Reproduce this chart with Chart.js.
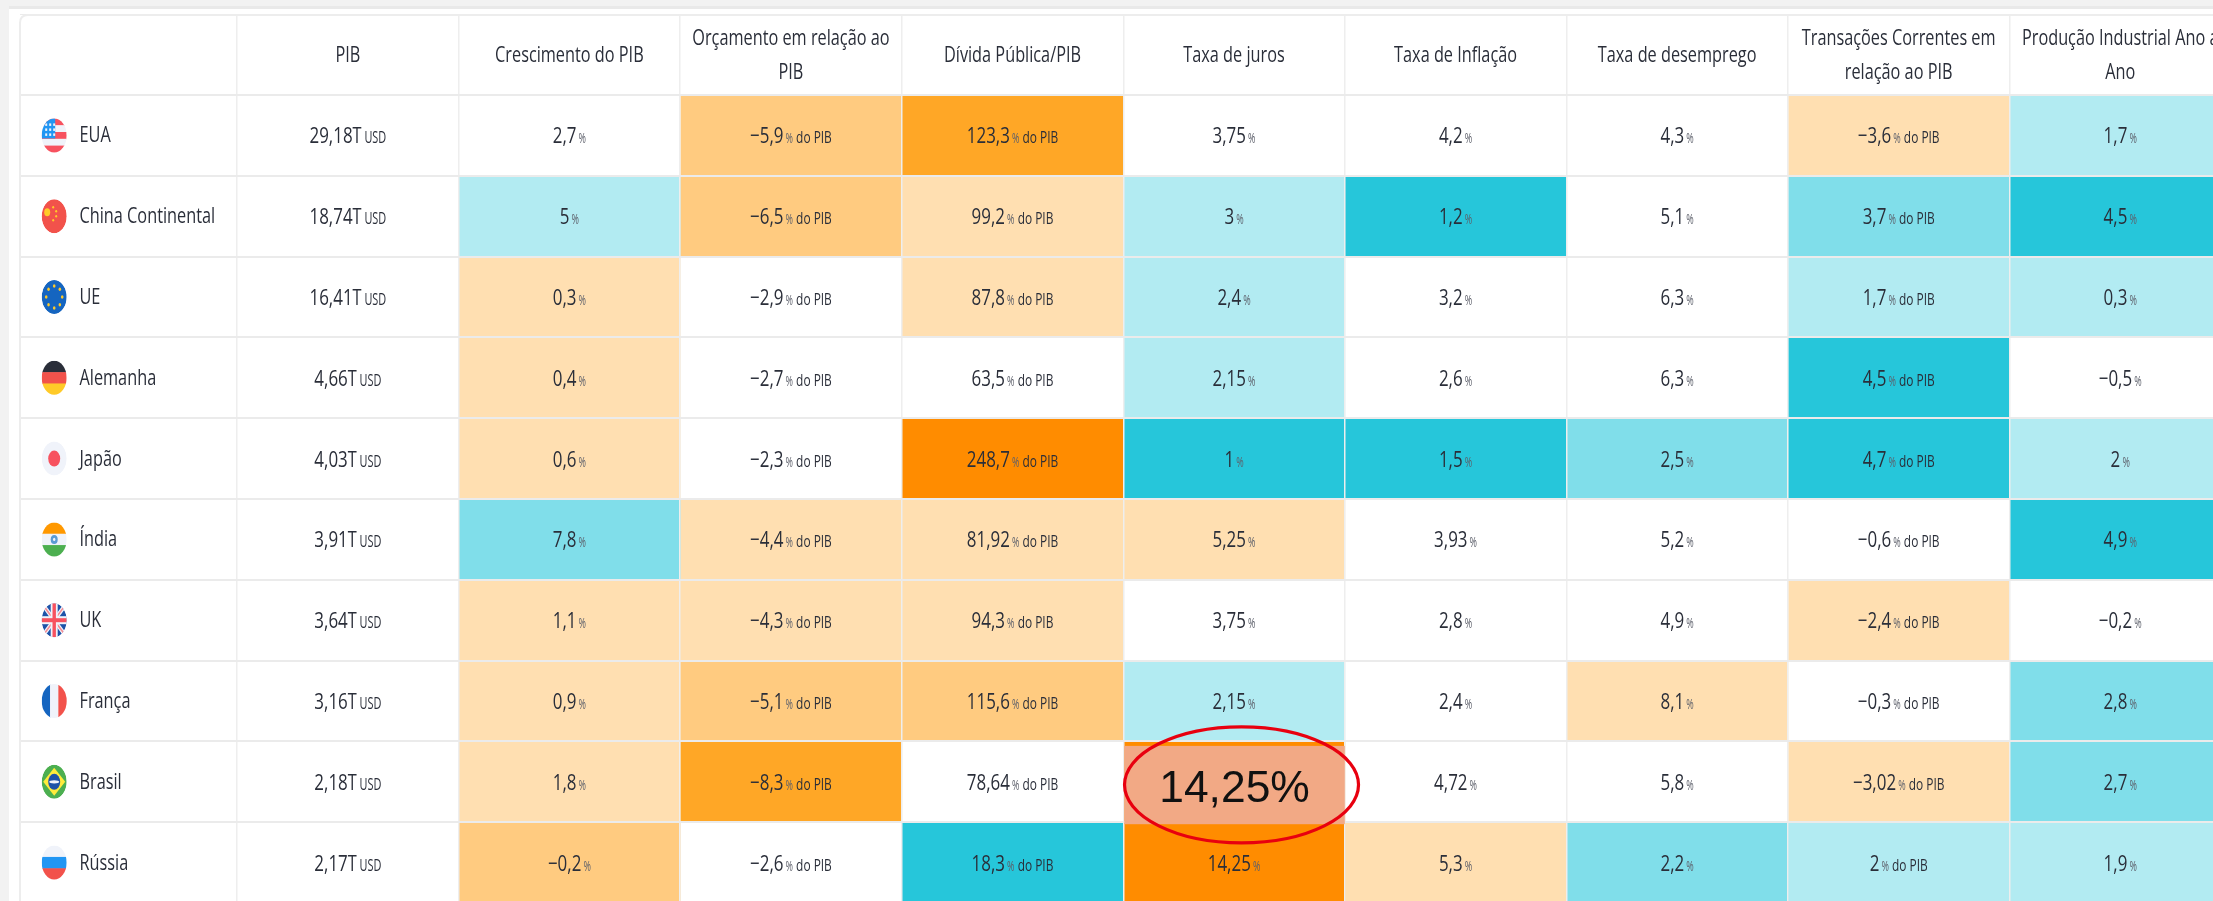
<!DOCTYPE html>
<html lang="pt">
<head>
<meta charset="utf-8">
<title>Indicadores por país</title>
<script src="https://cdn.jsdelivr.net/npm/chart.js@4"></script>
<style>
  html, body { margin: 0; padding: 0; background: #fff; overflow: hidden; }
  #grafico { position: absolute; left: 0; top: 0; }
</style>
</head>
<body>
<canvas id="grafico" width="2231" height="903"></canvas>
<script>
// Linhas e colunas da tabela
const paises = ["EUA", "China Continental", "UE", "Alemanha", "Japão", "Índia", "UK", "França", "Brasil", "Rússia"];
const cabecalhos = [
  [""],
  ["PIB"],
  ["Crescimento do PIB"],
  ["Orçamento em relação ao", "PIB"],
  ["Dívida Pública/PIB"],
  ["Taxa de juros"],
  ["Taxa de Inflação"],
  ["Taxa de desemprego"],
  ["Transações Correntes em", "relação ao PIB"],
  ["Produção Industrial Ano a", "Ano"],
];
const unidades = ["T USD", "%", "% do PIB", "% do PIB", "%", "%", "%", "% do PIB", "%"];

// Valores de cada coluna
const pib = [29.18, 18.74, 16.41, 4.66, 4.03, 3.91, 3.64, 3.16, 2.18, 2.17];
const crescimento = [2.7, 5, 0.3, 0.4, 0.6, 7.8, 1.1, 0.9, 1.8, -0.2];
const orcamento = [-5.9, -6.5, -2.9, -2.7, -2.3, -4.4, -4.3, -5.1, -8.3, -2.6];
const divida = [123.3, 99.2, 87.8, 63.5, 248.7, 81.92, 94.3, 115.6, 78.64, 18.3];
const juros = [3.75, 3, 2.4, 2.15, 1, 5.25, 3.75, 2.15, 14.25, 14.25];
const inflacao = [4.2, 1.2, 3.2, 2.6, 1.5, 3.93, 2.8, 2.4, 4.72, 5.3];
const desemprego = [4.3, 5.1, 6.3, 6.3, 2.5, 5.2, 4.9, 8.1, 5.8, 2.2];
const transacoes = [-3.6, 3.7, 1.7, 4.5, 4.7, -0.6, -2.4, -0.3, -3.02, 2];
const producao = [1.7, 4.5, 0.3, -0.5, 2, 4.9, -0.2, 2.8, 2.7, 1.9];
const colunas = [pib, crescimento, orcamento, divida, juros, inflacao, desemprego, transacoes, producao];

// Nível do mapa de calor: negativo = laranja, positivo = azul, 0 = branco
const nivelPib = [0, 0, 0, 0, 0, 0, 0, 0, 0, 0];
const nivelCrescimento = [0, 1, -1, -1, -1, 2, -1, -1, -1, -2];
const nivelOrcamento = [-2, -2, 0, 0, 0, -1, -1, -2, -3, 0];
const nivelDivida = [-3, -1, -1, 0, -4, -1, -1, -2, 0, 3];
const nivelJuros = [0, 1, 1, 1, 3, -1, 0, 1, -4, -4];
const nivelInflacao = [0, 3, 0, 0, 3, 0, 0, 0, 0, -1];
const nivelDesemprego = [0, 0, 0, 0, 2, 0, 0, -1, 0, 2];
const nivelTransacoes = [-1, 2, 1, 3, 3, 0, -1, 0, -1, 1];
const nivelProducao = [1, 3, 1, 0, 1, 3, 0, 2, 2, 1];
const niveis = [nivelPib, nivelCrescimento, nivelOrcamento, nivelDivida, nivelJuros, nivelInflacao, nivelDesemprego, nivelTransacoes, nivelProducao];

// Destaque em vermelho
const destaquePais = "Brasil";
const destaqueColuna = 4;
const destaqueTexto = "14,25%";

const coresNivel = {
  "-4": "#FF8C00", "-3": "#FFA726", "-2": "#FFCB80", "-1": "#FFDFB1",
  "0": "#FFFFFF",
  "1": "#B2EBF2", "2": "#80DEEA", "3": "#26C6DA",
};

const corTexto = "#2A2E39";
const fonte = '"Open Sans"';
const escala = 0.74; // o texto original é bem estreito

const linhas = [""].concat(paises);

function formatar(valor) {
  return valor.toLocaleString("pt-BR", { maximumFractionDigits: 2 }).replace("-", "−");
}

// Escreve pedaços de texto com tamanhos diferentes, centrados em cx
function pedacosTexto(ctx, pedacos, cx, y) {
  let total = 0;
  pedacos.forEach((p) => {
    ctx.font = `${p.tam}px ${fonte}`;
    p.larg = ctx.measureText(p.txt).width * p.esc;
    total += p.larg;
  });
  let x = cx - total / 2;
  ctx.textAlign = "left";
  ctx.textBaseline = "alphabetic";
  pedacos.forEach((p) => {
    ctx.save();
    ctx.font = `${p.tam}px ${fonte}`;
    ctx.fillStyle = p.cor;
    ctx.translate(x, y);
    ctx.scale(p.esc, 1);
    ctx.fillText(p.txt, 0, 0);
    ctx.restore();
    x += p.larg;
  });
}

function pedacosValor(valor, unidade) {
  const pedacos = [{ txt: formatar(valor), tam: 22, esc: escala + 0.03, cor: corTexto }];
  if (unidade[0] === "T") {
    pedacos.push({ txt: "T", tam: 22, esc: escala, cor: corTexto });
    pedacos.push({ txt: " USD", tam: 16, esc: escala - 0.06, cor: corTexto });
  } else {
    pedacos.push({ txt: " ", tam: 8, esc: 1, cor: corTexto });
    pedacos.push({ txt: "%", tam: 15, esc: 0.6, cor: "#5D606B" });
    if (unidade.length > 1) pedacos.push({ txt: " do PIB", tam: 17, esc: escala - 0.04, cor: corTexto });
  }
  return pedacos;
}

// Bandeiras simplificadas dentro de uma elipse
function bandeira(ctx, nome, cx, cy) {
  const rx = 12.5, ry = 17;
  const faixasH = (cores) => cores.forEach((c, i) => {
    ctx.fillStyle = c;
    ctx.fillRect(cx - rx, cy - ry + (i * 2 * ry) / cores.length, 2 * rx, (2 * ry) / cores.length + 0.5);
  });
  const faixasV = (cores) => cores.forEach((c, i) => {
    ctx.fillStyle = c;
    ctx.fillRect(cx - rx + (i * 2 * rx) / cores.length, cy - ry, (2 * rx) / cores.length + 0.5, 2 * ry);
  });
  const elipse = (x, y, a, b, cor) => {
    ctx.fillStyle = cor;
    ctx.beginPath();
    ctx.ellipse(x, y, a, b, 0, 0, Math.PI * 2);
    ctx.fill();
  };
  ctx.save();
  ctx.beginPath();
  ctx.ellipse(cx, cy, rx, ry, 0, 0, Math.PI * 2);
  ctx.clip();
  if (nome === "EUA") {
    faixasH(["#F7525F", "#F0F3FA", "#F7525F", "#F0F3FA", "#F7525F"]);
    ctx.fillStyle = "#2196F3";
    ctx.fillRect(cx - rx, cy - ry, rx + 1, ry + 3);
    ctx.fillStyle = "#F0F3FA";
    for (let i = 0; i < 3; i++) for (let j = 0; j < 3; j++) ctx.fillRect(cx - 9 + i * 4, cy - 12 + j * 5, 2, 2.5);
  } else if (nome === "China Continental") {
    elipse(cx, cy, rx, ry, "#F2524B");
    elipse(cx - 7, cy - 4, 3, 4, "#FFCA28");
    [[-1, -9], [2, -5], [2, 0], [-1, 4]].forEach((d) => elipse(cx + d[0], cy + d[1], 1, 1.3, "#FFCA28"));
  } else if (nome === "UE") {
    elipse(cx, cy, rx, ry, "#1565C0");
    for (let i = 0; i < 8; i++) {
      const a = (i * Math.PI) / 4;
      elipse(cx + 8 * Math.cos(a), cy + 11 * Math.sin(a), 1.3, 1.7, "#FFCA28");
    }
  } else if (nome === "Alemanha") {
    faixasH(["#2A2E39", "#F2524B", "#FFCA28"]);
  } else if (nome === "Japão") {
    elipse(cx, cy, rx, ry, "#F0F3FA");
    elipse(cx, cy, 6, 8, "#F7525F");
  } else if (nome === "Índia") {
    faixasH(["#FF9800", "#F0F3FA", "#4CAF50"]);
    elipse(cx, cy, 3.5, 4.5, "#5B9BD5");
    elipse(cx, cy, 1.2, 1.6, "#F0F3FA");
  } else if (nome === "UK") {
    elipse(cx, cy, rx, ry, "#1E53A8");
    ctx.lineCap = "butt";
    ctx.strokeStyle = "#F0F3FA";
    ctx.lineWidth = 4;
    ctx.beginPath();
    ctx.moveTo(cx - rx, cy - ry); ctx.lineTo(cx + rx, cy + ry);
    ctx.moveTo(cx + rx, cy - ry); ctx.lineTo(cx - rx, cy + ry);
    ctx.stroke();
    ctx.strokeStyle = "#F58A92";
    ctx.lineWidth = 1.5;
    ctx.stroke();
    ctx.fillStyle = "#F0F3FA";
    ctx.fillRect(cx - rx, cy - 4, 2 * rx, 8);
    ctx.fillRect(cx - 3.5, cy - ry, 7, 2 * ry);
    ctx.fillStyle = "#F7525F";
    ctx.fillRect(cx - rx, cy - 2, 2 * rx, 4);
    ctx.fillRect(cx - 1.7, cy - ry, 3.4, 2 * ry);
  } else if (nome === "França") {
    faixasV(["#1565C0", "#F0F3FA", "#F2524B"]);
  } else if (nome === "Brasil") {
    elipse(cx, cy, rx, ry, "#4CAF50");
    ctx.fillStyle = "#FFEB3B";
    ctx.beginPath();
    ctx.moveTo(cx, cy - 14); ctx.lineTo(cx + 11, cy); ctx.lineTo(cx, cy + 14); ctx.lineTo(cx - 11, cy);
    ctx.closePath();
    ctx.fill();
    elipse(cx, cy, 6, 8, "#1E53A8");
    elipse(cx, cy, 5, 1.6, "#F0F3FA");
  } else if (nome === "Rússia") {
    faixasH(["#F0F3FA", "#2196F3", "#F2524B"]);
  }
  ctx.restore();
}

// Cabeçalhos, nomes dos países e valores das células
const textoTabela = {
  id: "textoTabela",
  afterDatasetsDraw(chart) {
    const { ctx, scales: { x, y } } = chart;
    ctx.save();
    cabecalhos.forEach((cab, c) => {
      const cx = x.getPixelForValue(c + 0.5);
      const cy = y.getPixelForValue(0);
      cab.forEach((txt, i) => {
        const base = cy + 7.5 + (i - (cab.length - 1) / 2) * 34;
        pedacosTexto(ctx, [{ txt, tam: 22, esc: escala, cor: corTexto }], cx, base);
      });
    });
    paises.forEach((pais, r) => {
      const cy = y.getPixelForValue(r + 1);
      bandeira(ctx, pais, 54.2, cy);
      ctx.save();
      ctx.font = `22px ${fonte}`;
      ctx.fillStyle = corTexto;
      ctx.textAlign = "left";
      ctx.textBaseline = "alphabetic";
      ctx.translate(79.5, cy + 7);
      ctx.scale(escala, 1);
      ctx.fillText(pais, 0, 0);
      ctx.restore();
      colunas.forEach((col, c) => {
        const pedacos = pedacosValor(col[r], unidades[c]);
        pedacosTexto(ctx, pedacos, x.getPixelForValue(c + 1.5), cy + 8);
      });
    });
    ctx.restore();
  },
};

// Moldura da página e destaque por cima de tudo
const moldura = {
  id: "moldura",
  afterDraw(chart) {
    const { ctx, scales: { x, y } } = chart;
    ctx.save();

    // destaque (retângulo e elipse vermelha)
    const r = linhas.indexOf(destaquePais);
    const esq = x.getPixelForValue(destaqueColuna + 1);
    const dir = x.getPixelForValue(destaqueColuna + 2);
    const alto = y.getPixelForValue(r);
    const passo = y.getPixelForValue(r + 1) - alto;
    const topo = alto - passo / 2 + 4.5;
    const fundo = alto + passo / 2 + 2;
    ctx.fillStyle = "#F2A985";
    ctx.fillRect(esq + 1, topo, dir - esq - 1, fundo - topo);
    ctx.fillStyle = "#111111";
    ctx.font = '44.4px "Liberation Sans"';
    ctx.textAlign = "center";
    ctx.textBaseline = "alphabetic";
    ctx.fillText(destaqueTexto, (esq + dir) / 2 + 0.5, alto + 20);
    ctx.strokeStyle = "#E8000F";
    ctx.lineWidth = 3.2;
    ctx.beginPath();
    ctx.ellipse((esq + dir) / 2 + 7.5, alto + 3, 117, 58, 0, 0, Math.PI * 2);
    ctx.stroke();

    // margens da página
    ctx.fillStyle = "#FFFFFF";
    ctx.fillRect(0, 0, 20, chart.height);
    ctx.fillRect(0, 0, chart.width, 14);
    ctx.fillStyle = "#F2F2F2";
    ctx.fillRect(0, 0, 9, chart.height);
    ctx.fillRect(0, 0, chart.width, 6);
    ctx.fillStyle = "#E9E9E9";
    ctx.fillRect(9, 6, chart.width, 3);
    ctx.strokeStyle = "#EDEDED";
    ctx.lineWidth = 2;
    ctx.beginPath();
    ctx.moveTo(chart.width, 15);
    ctx.lineTo(28, 15);
    ctx.quadraticCurveTo(20, 15, 20, 23);
    ctx.lineTo(20, chart.height);
    ctx.stroke();
    ctx.restore();
  },
};

// Cada coluna é uma série de barras flutuantes horizontais
function criarSeries() {
  const series = [{
    label: "País",
    data: linhas.map(() => null),
    backgroundColor: "#FFFFFF",
  }];
  niveis.forEach((nivel, c) => {
    series.push({
      label: cabecalhos[c + 1].join(" "),
      data: [null].concat(nivel.map(() => [c + 1, c + 2])),
      backgroundColor: [coresNivel[0]].concat(nivel.map((n) => coresNivel[n])),
    });
  });
  return series;
}

new Chart(document.getElementById("grafico"), {
  type: "bar",
  data: { labels: linhas, datasets: criarSeries() },
  options: {
    indexAxis: "y",
    responsive: false,
    animation: false,
    grouped: false,
    categoryPercentage: 1,
    barPercentage: 1,
    layout: { padding: { left: 15.5, top: 14.2, right: 0, bottom: 0 } },
    plugins: { legend: { display: false }, tooltip: { enabled: false } },
    scales: {
      x: {
        type: "linear",
        min: 0,
        max: 10,
        ticks: { display: false, stepSize: 1 },
        border: { display: false },
        grid: { z: 1, color: "#EEEEEE", lineWidth: 1.5, drawTicks: false },
      },
      y: {
        type: "category",
        offset: true,
        ticks: { display: false },
        border: { display: false },
        grid: { z: 1, offset: true, color: "#EBEBEB", lineWidth: 2, drawTicks: false },
      },
    },
  },
  plugins: [textoTabela, moldura],
});
</script>
</body>
</html>
